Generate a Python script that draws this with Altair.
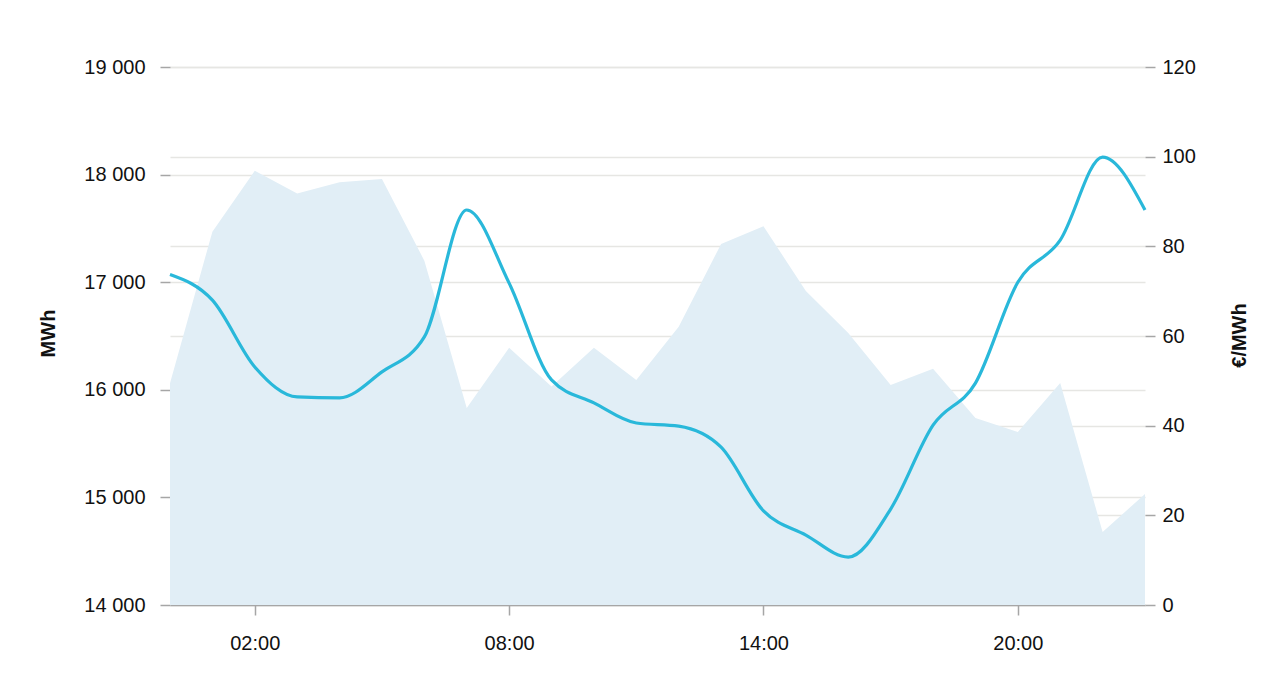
import altair as alt
import pandas as pd

hours = list(range(24))
mwh = [16060, 17470, 18035, 17825, 17930, 17960, 17200, 15830, 16390, 16030,
       16390, 16090, 16585, 17355, 17520, 16918, 16528, 16045, 16195, 15738,
       15608, 16063, 14678, 15032]
price = [73.7, 68.0, 53.1, 46.4, 46.2, 52.0, 59.8, 88.1, 71.8, 50.2, 45.1, 40.6,
         39.9, 35.2, 21.0, 15.6, 10.7, 21.4, 40.1, 49.5, 72.0, 81.4, 99.9, 88.1]

x_ticks = [2, 8, 14, 20]
left_ticks = [14000, 15000, 16000, 17000, 18000, 19000]
right_ticks = [0, 20, 40, 60, 80, 100, 120]

df = pd.DataFrame({"hour": hours, "mwh": mwh, "price": price})

FONT = "Liberation Sans"
GRID = "#e6e6e3"
TICK = "#a6a6a6"
TXT = "#111111"

x_enc = alt.X(
    "hour:Q",
    scale=alt.Scale(domain=[0, 23], nice=False, zero=False),
    axis=alt.Axis(
        values=x_ticks,
        labelExpr="(datum.value < 10 ? '0' : '') + datum.value + ':00'",
        title=None,
        grid=False,
        domain=True,
        domainColor=TICK,
        domainWidth=1.5,
        tickColor=TICK,
        tickWidth=1.5,
        tickSize=10,
        labelPadding=18,
        labelFontSize=20,
        labelFont=FONT,
        labelColor=TXT,
    ),
)

area = alt.Chart(df).mark_area(color="#e1eef6", interpolate="linear").encode(
    x=x_enc,
    y=alt.Y(
        "mwh:Q",
        scale=alt.Scale(domain=[14000, 19000], nice=False, zero=False),
        axis=alt.Axis(
            values=left_ticks,
            labelExpr="replace(format(datum.value, ',d'), ',', ' ')",
            title="MWh",
            titleFont=FONT,
            titleFontSize=20,
            titleFontWeight="bold",
            titleColor=TXT,
            titleX=-112,
            titleY=266,
            titleAngle=270,
            grid=True,
            gridColor=GRID,
            gridWidth=1.5,
            domain=False,
            tickColor=TICK,
            tickWidth=1.5,
            tickSize=10,
            labelPadding=15,
            labelFontSize=20,
            labelFont=FONT,
            labelColor=TXT,
        ),
    ),
    y2=alt.datum(14000),
)

line = alt.Chart(df).mark_line(
    color="#29b8da", strokeWidth=3.2, interpolate="monotone"
).encode(
    x=alt.X("hour:Q"),
    y=alt.Y(
        "price:Q",
        scale=alt.Scale(domain=[0, 120], nice=False),
        axis=alt.Axis(
            orient="right",
            values=right_ticks,
            title="€/MWh",
            titleFont=FONT,
            titleFontSize=20,
            titleFontWeight="bold",
            titleColor=TXT,
            titleX=104,
            titleY=268,
            titleAngle=270,
            grid=True,
            gridColor=GRID,
            gridWidth=1.5,
            domain=False,
            tickColor=TICK,
            tickWidth=1.5,
            tickSize=10,
            labelPadding=7,
            labelFontSize=20,
            labelFont=FONT,
            labelColor=TXT,
        ),
    ),
)

chart = (
    alt.layer(area, line)
    .resolve_scale(y="independent")
    .properties(
        width=975,
        height=538,
        autosize=alt.AutoSizeParams(type="none"),
        padding={"left": 162, "top": 59, "right": 115, "bottom": 61},
        background="white",
    )
    .configure_view(stroke=None)
)

chart.save("out.html", embed_options={"renderer": "svg", "actions": False})
